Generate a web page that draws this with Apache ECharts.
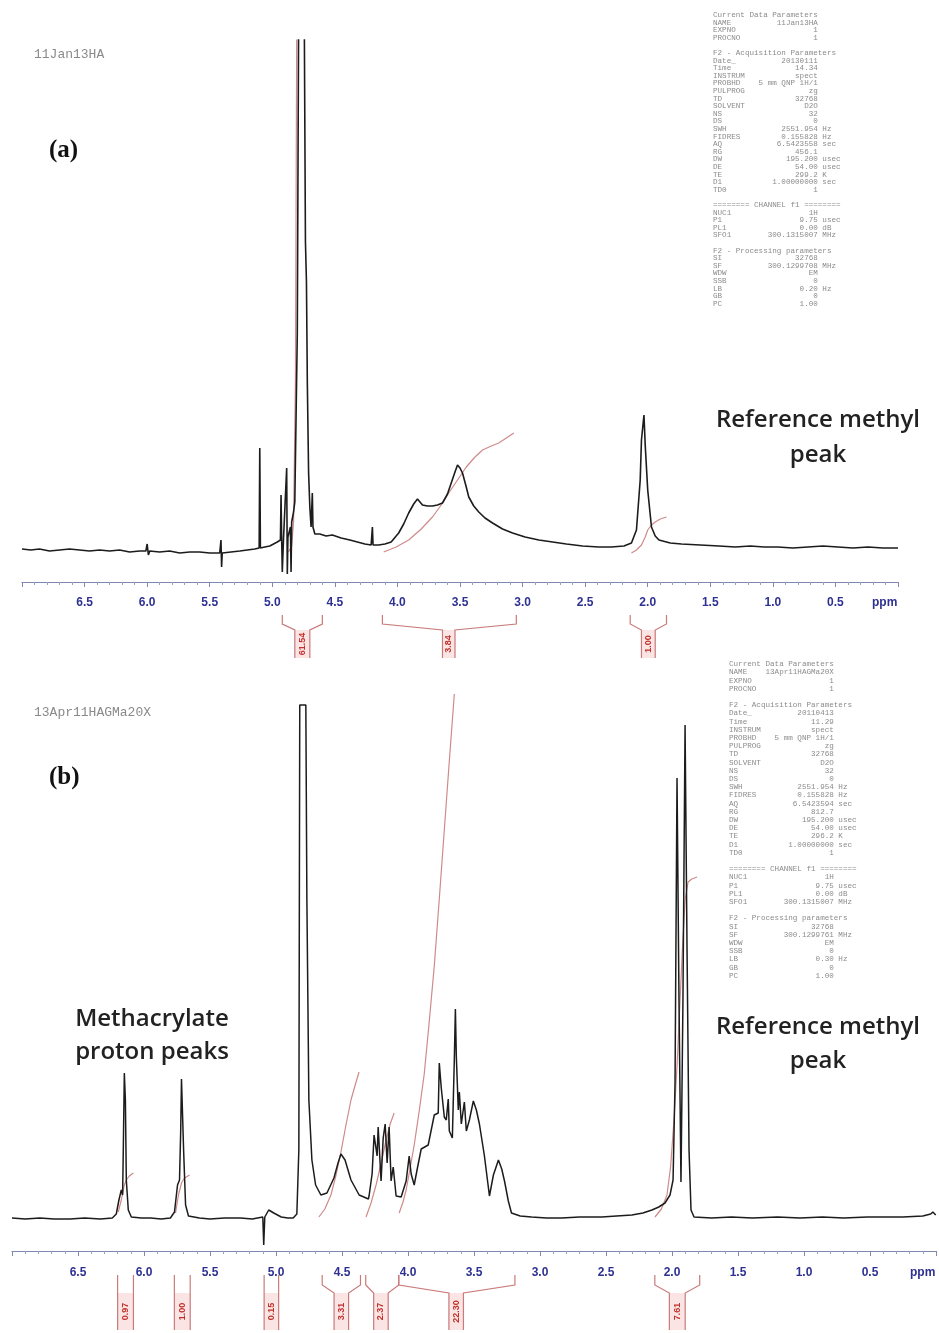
<!doctype html>
<html>
<head>
<meta charset="UTF-8"/>
<title>1H NMR spectra (a) 11Jan13HA (b) 13Apr11HAGMa20X</title>
<script src="https://cdn.jsdelivr.net/npm/echarts/dist/echarts.min.js"></script>
<style>
html, body { margin:0; padding:0; background:#fff; }
#nmr { width:939px; height:1333px; }
</style>
</head>
<body>
<div id="nmr"></div>
<script>
// ---- spectrum (a): [ppm, height]
var specA = [
  [7.00,33],[6.93,32],[6.86,33],[6.78,31],[6.70,32],[6.62,33],[6.54,32],[6.46,31],[6.38,32],[6.30,31],
  [6.22,32],[6.14,30],[6.06,31],[6.01,31],[6.00,38],[5.99,27],[5.98,31],[5.90,30],[5.82,31],[5.74,29],
  [5.66,30],[5.58,30],[5.50,29],[5.46,29],[5.42,29],[5.41,42],[5.405,15],[5.40,29],[5.33,30],[5.26,31],
  [5.20,32],[5.14,33],[5.105,34],[5.10,134],[5.095,34],[5.06,35],[5.02,36],[4.99,38],[4.96,40],[4.935,42],
  [4.93,87],[4.925,42],[4.92,10],[4.91,44],[4.90,44],[4.885,114],[4.88,8],[4.875,45],[4.865,50],[4.855,55],
  [4.85,10],[4.845,60],[4.83,70],[4.82,80],[4.80,250],[4.785,700],[4.75,700],[4.735,340],[4.727,300],[4.72,200],
  [4.71,110],[4.70,75],[4.69,55],[4.68,89],[4.675,55],[4.66,48],[4.62,48],[4.57,46],[4.52,47],[4.45,44],
  [4.38,42],[4.32,40],[4.26,38],[4.21,37],[4.20,55],[4.195,37],[4.15,37],[4.10,38],[4.05,40],[3.99,49],
  [3.95,58],[3.91,69],[3.87,78],[3.84,83],[3.80,77],[3.76,76],[3.72,76],[3.68,77],[3.64,79],[3.60,88],
  [3.57,99],[3.54,110],[3.52,117],[3.50,114],[3.48,109],[3.45,95],[3.43,85],[3.39,76],[3.35,70],[3.30,64],
  [3.24,59],[3.16,53],[3.08,49],[2.98,45],[2.87,42],[2.76,40],[2.65,38],[2.52,36],[2.39,35],[2.29,35],
  [2.19,36],[2.13,39],[2.09,52],[2.06,102],[2.05,142],[2.03,167],[2.02,137],[2.00,92],[1.97,55],[1.94,46],
  [1.91,42],[1.82,39],[1.73,38],[1.58,37],[1.43,36],[1.30,35],[1.18,36],[1.07,35],[0.96,35],[0.84,34],
  [0.72,35],[0.60,36],[0.48,35],[0.36,34],[0.24,35],[0.12,34],[0.00,34]
];
// integral curves (a)
var intA1 = [[4.87,30],[4.845,36],[4.83,60],[4.815,200],[4.805,542],[4.80,620]];
var intA2 = [[4.11,30],[4.01,35],[3.91,42],[3.81,53],[3.72,65],[3.65,77],[3.59,89],[3.52,102],[3.45,115],[3.38,125],[3.32,132],[3.25,136],[3.19,139],[3.13,144],[3.07,149]];
var intA3 = [[2.13,29],[2.09,32],[2.05,37],[2.02,45],[2.00,52],[1.97,57],[1.94,60],[1.90,63],[1.85,65]];
// integral brackets (a): [outer left ppm, outer right ppm, inner left ppm, inner right ppm, value]
var bracketsA = [
  [4.92, 4.60, 4.82, 4.70, '61.54'],
  [4.12, 3.05, 3.64, 3.54, '3.84'],
  [2.14, 1.85, 2.05, 1.94, '1.00']
];

// ---- spectrum (b): [ppm, height]
var specB = [
  [7.00,33],[6.90,32],[6.79,33],[6.68,32],[6.56,32],[6.45,33],[6.33,32],[6.24,33],[6.21,37],[6.19,51],
  [6.172,61],[6.162,56],[6.157,100],[6.149,178],[6.141,151],[6.134,71],[6.119,41],[6.096,34],[6.02,33],[5.95,33],
  [5.87,32],[5.80,33],[5.769,39],[5.746,66],[5.731,71],[5.722,120],[5.716,172],[5.70,101],[5.685,46],[5.663,35],
  [5.58,33],[5.50,32],[5.39,33],[5.27,33],[5.18,32],[5.10,34],[5.093,6],[5.085,34],[5.055,41],[5.04,43],
  [5.017,38],[4.96,34],[4.91,33],[4.87,33],[4.842,37],[4.827,101],[4.82,546],[4.774,546],[4.766,351],[4.751,151],
  [4.728,91],[4.70,66],[4.66,56],[4.614,58],[4.561,73],[4.53,88],[4.508,97],[4.477,91],[4.432,71],[4.37,56],
  [4.30,52],[4.295,55],[4.272,77],[4.257,116],[4.234,95],[4.226,124],[4.204,70],[4.188,113],[4.173,127],[4.158,88],
  [4.143,124],[4.128,70],[4.112,84],[4.09,55],[4.052,54],[4.014,70],[3.991,95],[3.976,77],[3.953,66],[3.93,82],
  [3.90,102],[3.847,106],[3.801,136],[3.771,138],[3.763,188],[3.748,163],[3.725,134],[3.71,131],[3.695,152],[3.687,120],
  [3.664,113],[3.649,192],[3.641,242],[3.634,195],[3.619,141],[3.611,159],[3.596,127],[3.573,149],[3.558,120],[3.535,131],
  [3.505,150],[3.482,141],[3.459,127],[3.421,95],[3.383,55],[3.353,76],[3.315,91],[3.29,82],[3.269,70],[3.24,50],
  [3.216,38],[3.15,35],[3.064,34],[2.95,33],[2.836,33],[2.70,34],[2.532,34],[2.42,35],[2.304,36],[2.22,38],
  [2.152,41],[2.10,44],[2.053,48],[2.015,56],[1.992,71],[1.977,168],[1.962,473],[1.947,251],[1.932,69],[1.917,251],
  [1.901,526],[1.886,301],[1.871,101],[1.856,41],[1.833,34],[1.70,33],[1.55,34],[1.392,33],[1.20,34],[1.03,33],
  [0.86,34],[0.70,33],[0.52,34],[0.36,34],[0.25,34],[0.10,35],[0.04,37],[0.024,39],[0.002,36]
];
// integral curves (b)
var intB1 = [[6.195,39],[6.172,51],[6.149,66],[6.134,71],[6.111,75],[6.081,78]];
var intB2 = [[5.761,38],[5.739,56],[5.716,68],[5.693,73],[5.655,76]];
var intB3 = [[4.675,34],[4.63,42],[4.584,56],[4.545,76],[4.508,99],[4.47,126],[4.432,151],[4.40,166],[4.371,179]];
var intB4 = [[4.318,34],[4.28,48],[4.242,66],[4.20,90],[4.166,111],[4.135,127],[4.105,138]];
var intB5 = [[4.067,38],[4.04,48],[4.014,61],[3.985,82],[3.953,106],[3.915,140],[3.877,177],[3.84,228],[3.801,285],[3.763,352],[3.725,421],[3.687,490],[3.649,557]];
var intB6 = [[2.129,34],[2.08,42],[2.038,56],[2.01,85],[1.985,131],[1.96,190],[1.939,251],[1.92,305],[1.901,351],[1.878,369],[1.85,372],[1.81,374]];
var bracketsB = [
  [6.20, 6.08, 6.20, 6.08, '0.97'],
  [5.77, 5.65, 5.77, 5.65, '1.00'],
  [5.09, 4.98, 5.09, 4.98, '0.15'],
  [4.65, 4.36, 4.56, 4.45, '3.31'],
  [4.32, 4.07, 4.26, 4.15, '2.37'],
  [4.07, 3.19, 3.69, 3.58, '22.30'],
  [2.13, 1.79, 2.02, 1.90, '7.61']
];

// acquisition parameter listings (top right)
var paramsA = [
  'Current Data Parameters', ['NAME','11Jan13HA'], ['EXPNO','1'], ['PROCNO','1'], '',
  'F2 - Acquisition Parameters', ['Date_','20130111'], ['Time','14.34'], ['INSTRUM','spect'],
  ['PROBHD','5 mm QNP 1H/1'], ['PULPROG','zg'], ['TD','32768'], ['SOLVENT','D2O'], ['NS','32'],
  ['DS','0'], ['SWH','2551.954','Hz'], ['FIDRES','0.155828','Hz'], ['AQ','6.5423558','sec'],
  ['RG','456.1'], ['DW','195.200','usec'], ['DE','54.00','usec'], ['TE','299.2','K'],
  ['D1','1.00000000','sec'], ['TD0','1'], '',
  '======== CHANNEL f1 ========', ['NUC1','1H'], ['P1','9.75','usec'], ['PL1','0.00','dB'],
  ['SFO1','300.1315007','MHz'], '',
  'F2 - Processing parameters', ['SI','32768'], ['SF','300.1299708','MHz'], ['WDW','EM'],
  ['SSB','0'], ['LB','0.20','Hz'], ['GB','0'], ['PC','1.00']
];
var paramsB = [
  'Current Data Parameters', ['NAME','13Apr11HAGMa20X'], ['EXPNO','1'], ['PROCNO','1'], '',
  'F2 - Acquisition Parameters', ['Date_','20110413'], ['Time','11.29'], ['INSTRUM','spect'],
  ['PROBHD','5 mm QNP 1H/1'], ['PULPROG','zg'], ['TD','32768'], ['SOLVENT','D2O'], ['NS','32'],
  ['DS','0'], ['SWH','2551.954','Hz'], ['FIDRES','0.155828','Hz'], ['AQ','6.5423594','sec'],
  ['RG','812.7'], ['DW','195.200','usec'], ['DE','54.00','usec'], ['TE','296.2','K'],
  ['D1','1.00000000','sec'], ['TD0','1'], '',
  '======== CHANNEL f1 ========', ['NUC1','1H'], ['P1','9.75','usec'], ['PL1','0.00','dB'],
  ['SFO1','300.1315007','MHz'], '',
  'F2 - Processing parameters', ['SI','32768'], ['SF','300.1299761','MHz'], ['WDW','EM'],
  ['SSB','0'], ['LB','0.30','Hz'], ['GB','0'], ['PC','1.00']
];

function paramText(rows) {
  return rows.map(function (r) {
    if (typeof r === 'string') return r;
    var pad = Math.max(1, 23 - r[0].length - r[1].length);
    return r[0] + new Array(pad + 1).join(' ') + r[1] + (r[2] ? ' ' + r[2] : '');
  }).join('\n');
}

var specColor = '#1c1c1c';
var intColor = '#cf8a8a';
var brColor = '#c97a7a';

function bracketRender(list, lv) {
  // lv: [top, bend, inner, bottom] in y units (below the axis, so negative)
  return function (params, api) {
    var b = list[params.dataIndex];
    var xa = api.coord([b[0], 0])[0], xb = api.coord([b[1], 0])[0];
    var xc = api.coord([b[2], 0])[0], xd = api.coord([b[3], 0])[0];
    var y0 = api.coord([0, lv[0]])[1], y1 = api.coord([0, lv[1]])[1];
    var y2 = api.coord([0, lv[2]])[1], y3 = api.coord([0, lv[3]])[1];
    var line = { stroke: brColor, lineWidth: 1.2, fill: null };
    return {
      type: 'group',
      children: [
        { type: 'rect', shape: { x: Math.min(xc, xd), y: y2, width: Math.abs(xd - xc), height: y3 - y2 },
          style: { fill: '#fbe4e4' } },
        { type: 'polyline', shape: { points: [[xa, y0], [xa, y1], [xc, y2], [xc, y3]] }, style: line },
        { type: 'polyline', shape: { points: [[xb, y0], [xb, y1], [xd, y2], [xd, y3]] }, style: line },
        { type: 'text', x: (xc + xd) / 2, y: (y2 + y3) / 2, rotation: Math.PI / 2,
          style: { text: b[4], fill: '#c0302a', font: 'bold 9px "Liberation Sans", Arial',
                   align: 'center', verticalAlign: 'middle' } }
      ]
    };
  };
}

function xAx(idx, margin) {
  return {
    gridIndex: idx, type: 'value', inverse: true, min: 0, max: 7, interval: 0.5,
    axisLine: { onZero: false, lineStyle: { color: '#8088b0', width: 1.2 } },
    axisTick: { length: 5, lineStyle: { color: '#8088b0' } },
    minorTick: { show: true, splitNumber: 5, length: 3, lineStyle: { color: '#9aa0c0' } },
    splitLine: { show: false },
    axisLabel: {
      margin: margin, color: '#2e3192', fontWeight: 'bold', fontSize: 12,
      fontFamily: '"Liberation Sans", Arial',
      formatter: function (v) { return (v <= 0 || v >= 7) ? '' : v.toFixed(1); }
    }
  };
}

function lineS(data, xi, color, w) {
  return { type: 'line', xAxisIndex: xi, yAxisIndex: xi, data: data, showSymbol: false,
           silent: true, lineStyle: { color: color, width: w }, z: color === specColor ? 3 : 2 };
}

var chart = echarts.init(document.getElementById('nmr'));

var annot = { fill: '#222', font: '600 24px "Open Sans", sans-serif', align: 'center' };

chart.setOption({
  animation: false,
  backgroundColor: '#fff',
  grid: [
    { left: 22, right: 41, top: 40, bottom: 751 },
    { left: 12, right: 3, top: 691, bottom: 82 }
  ],
  xAxis: [xAx(0, 15), xAx(1, 16)],
  yAxis: [
    { gridIndex: 0, type: 'value', min: 0, max: 542, show: false },
    { gridIndex: 1, type: 'value', min: 0, max: 560, show: false }
  ],
  series: [
    lineS(intA1, 0, intColor, 1.2), lineS(intA2, 0, intColor, 1.2), lineS(intA3, 0, intColor, 1.2),
    lineS(specA, 0, specColor, 1.6),
    { type: 'custom', xAxisIndex: 0, yAxisIndex: 0, data: bracketsA.map(function (b) { return b.slice(0, 4); }),
      renderItem: bracketRender(bracketsA, [-33, -42, -48, -76]), silent: true, clip: false },
    lineS(intB1, 1, intColor, 1.2), lineS(intB2, 1, intColor, 1.2), lineS(intB3, 1, intColor, 1.2),
    lineS(intB4, 1, intColor, 1.2), lineS(intB5, 1, intColor, 1.2), lineS(intB6, 1, intColor, 1.2),
    lineS(specB, 1, specColor, 1.5),
    { type: 'custom', xAxisIndex: 1, yAxisIndex: 1, data: bracketsB.map(function (b) { return b.slice(0, 4); }),
      renderItem: bracketRender(bracketsB, [-24, -34, -42, -79]), silent: true, clip: false }
  ],
  graphic: [
    { type: 'text', left: 34, top: 48, style: { text: '11Jan13HA', fill: '#8a8a8a', font: '13px "Liberation Mono", monospace' } },
    { type: 'text', left: 49, top: 138, style: { text: '(a)', fill: '#111', font: 'bold 25px "Liberation Serif", serif' } },
    { type: 'text', left: 713, top: 11, style: { text: paramText(paramsA), fill: '#8c8c8c', lineHeight: 7.6, font: '7.6px "Liberation Mono", monospace' } },
    { type: 'text', x: 818, y: 408, style: Object.assign({ text: 'Reference methyl' }, annot) },
    { type: 'text', x: 818, y: 443, style: Object.assign({ text: 'peak' }, annot) },
    { type: 'text', left: 872, top: 597, style: { text: 'ppm', fill: '#2e3192', font: 'bold 12px "Liberation Sans", Arial' } },

    { type: 'text', left: 34, top: 706, style: { text: '13Apr11HAGMa20X', fill: '#8a8a8a', font: '13px "Liberation Mono", monospace' } },
    { type: 'text', left: 49, top: 765, style: { text: '(b)', fill: '#111', font: 'bold 25px "Liberation Serif", serif' } },
    { type: 'text', left: 729, top: 660, style: { text: paramText(paramsB), fill: '#8c8c8c', lineHeight: 8.2, font: '7.6px "Liberation Mono", monospace' } },
    { type: 'text', x: 818, y: 1015, style: Object.assign({ text: 'Reference methyl' }, annot) },
    { type: 'text', x: 818, y: 1049, style: Object.assign({ text: 'peak' }, annot) },
    { type: 'text', x: 152, y: 1007, style: Object.assign({ text: 'Methacrylate' }, annot) },
    { type: 'text', x: 152, y: 1040, style: Object.assign({ text: 'proton peaks' }, annot) },
    { type: 'text', left: 910, top: 1267, style: { text: 'ppm', fill: '#2e3192', font: 'bold 12px "Liberation Sans", Arial' } }
  ]
});
</script>
</body>
</html>
